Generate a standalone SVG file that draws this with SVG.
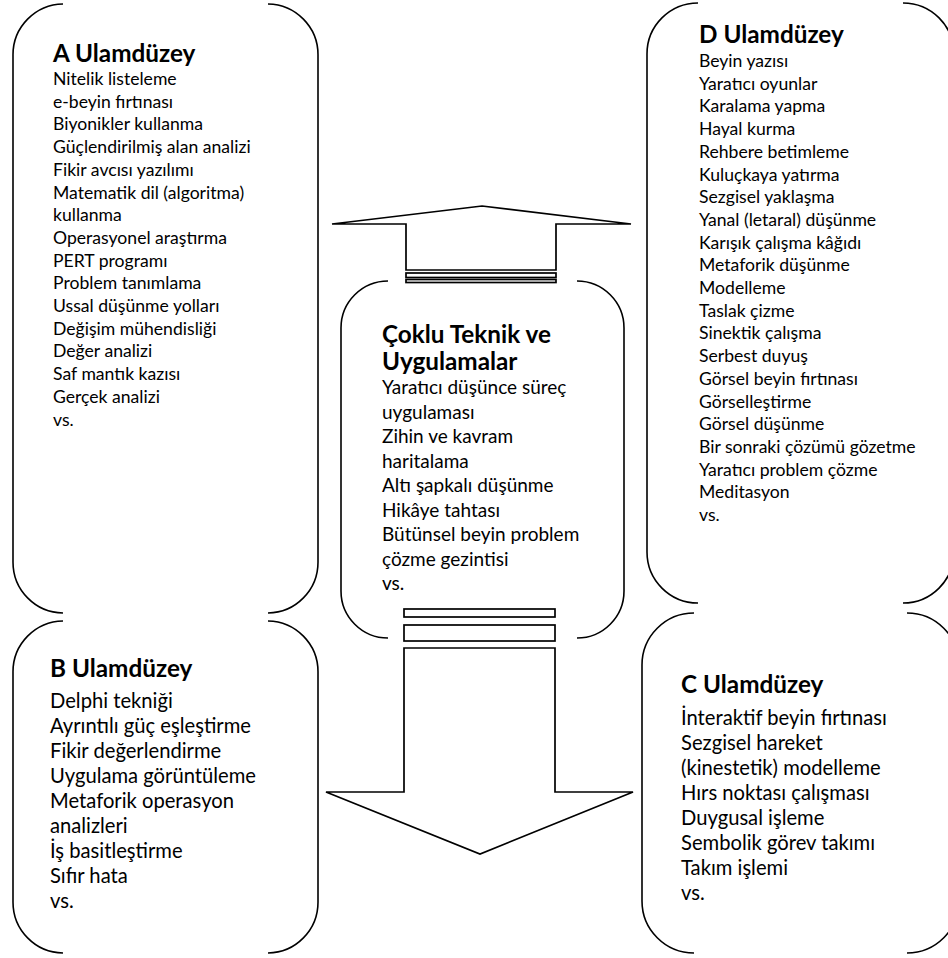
<svg xmlns="http://www.w3.org/2000/svg" width="948" height="958" viewBox="0 0 948 958">
<style>
.br{fill:none;stroke:#000;stroke-width:1.6}
.ar{fill:#fff;stroke:#000;stroke-width:1.7;stroke-linejoin:miter}
.h{font-family:Lato,"Noto Sans",sans-serif;font-weight:bold;font-size:24.3px;fill:#000}
.s{font-family:Lato,"Noto Sans",sans-serif;font-size:17.6px;fill:#000}
.m{font-family:Lato,"Noto Sans",sans-serif;font-size:19px;fill:#000}
.l{font-family:Lato,"Noto Sans",sans-serif;font-size:20.2px;fill:#000}
</style>
<rect width="948" height="958" fill="#fff"/>
<g id="nodeA">
<path class="br" d="M63,4 A50.8,50.8 0 0 0 13,54.8 L13,562.2 A50.8,50.8 0 0 0 63,613"/>
<path class="br" d="M268,4 A50.8,50.8 0 0 1 318,54.8 L318,562.2 A50.8,50.8 0 0 1 268,613"/>
<text class="h" x="53" y="62">A Ulamdüzey</text>
<text class="s" x="53" y="85">Nitelik listeleme</text>
<text class="s" x="53" y="107.7">e-beyin fırtınası</text>
<text class="s" x="53" y="130.4">Biyonikler kullanma</text>
<text class="s" x="53" y="153.1">Güçlendirilmiş alan analizi</text>
<text class="s" x="53" y="175.8">Fikir avcısı yazılımı</text>
<text class="s" x="53" y="198.5">Matematik dil (algoritma)</text>
<text class="s" x="53" y="221.2">kullanma</text>
<text class="s" x="53" y="243.9">Operasyonel araştırma</text>
<text class="s" x="53" y="266.6">PERT programı</text>
<text class="s" x="53" y="289.3">Problem tanımlama</text>
<text class="s" x="53" y="312">Ussal düşünme yolları</text>
<text class="s" x="53" y="334.7">Değişim mühendisliği</text>
<text class="s" x="53" y="357.4">Değer analizi</text>
<text class="s" x="53" y="380.1">Saf mantık kazısı</text>
<text class="s" x="53" y="402.8">Gerçek analizi</text>
<text class="s" x="53" y="425.5">vs.</text>
</g>
<g id="nodeD">
<path class="br" d="M698,3 A51,51 0 0 0 647,54 L647,552 A51,51 0 0 0 698,603"/>
<path class="br" d="M903,3 A51,51 0 0 1 954,54 L954,552 A51,51 0 0 1 903,603"/>
<text class="h" x="699" y="43">D Ulamdüzey</text>
<text class="s" x="699" y="67">Beyin yazısı</text>
<text class="s" x="699" y="89.7">Yaratıcı oyunlar</text>
<text class="s" x="699" y="112.4">Karalama yapma</text>
<text class="s" x="699" y="135.1">Hayal kurma</text>
<text class="s" x="699" y="157.8">Rehbere betimleme</text>
<text class="s" x="699" y="180.5">Kuluçkaya yatırma</text>
<text class="s" x="699" y="203.2">Sezgisel yaklaşma</text>
<text class="s" x="699" y="225.9">Yanal (letaral) düşünme</text>
<text class="s" x="699" y="248.6">Karışık çalışma kâğıdı</text>
<text class="s" x="699" y="271.3">Metaforik düşünme</text>
<text class="s" x="699" y="294">Modelleme</text>
<text class="s" x="699" y="316.7">Taslak çizme</text>
<text class="s" x="699" y="339.4">Sinektik çalışma</text>
<text class="s" x="699" y="362.1">Serbest duyuş</text>
<text class="s" x="699" y="384.8">Görsel beyin fırtınası</text>
<text class="s" x="699" y="407.5">Görselleştirme</text>
<text class="s" x="699" y="430.2">Görsel düşünme</text>
<text class="s" x="699" y="452.9">Bir sonraki çözümü gözetme</text>
<text class="s" x="699" y="475.6">Yaratıcı problem çözme</text>
<text class="s" x="699" y="498.3">Meditasyon</text>
<text class="s" x="699" y="521">vs.</text>
</g>
<g id="nodeCenter">
<path class="br" d="M388,281 A47,47 0 0 0 341,328 L341,591 A47,47 0 0 0 388,638"/>
<path class="br" d="M577,281 A47,47 0 0 1 624,328 L624,591 A47,47 0 0 1 577,638"/>
<text class="h" x="382" y="343">Çoklu Teknik ve</text>
<text class="h" x="382" y="370">Uygulamalar</text>
<text class="m" x="382" y="394">Yaratıcı düşünce süreç</text>
<text class="m" x="382" y="418.5">uygulaması</text>
<text class="m" x="382" y="443">Zihin ve kavram</text>
<text class="m" x="382" y="467.5">haritalama</text>
<text class="m" x="382" y="492">Altı şapkalı düşünme</text>
<text class="m" x="382" y="516.5">Hikâye tahtası</text>
<text class="m" x="382" y="541">Bütünsel beyin problem</text>
<text class="m" x="382" y="565.5">çözme gezintisi</text>
<text class="m" x="382" y="590">vs.</text>
</g>
<g id="nodeB">
<path class="br" d="M63,621 A50.8,50.8 0 0 0 13,671.8 L13,902.2 A50.8,50.8 0 0 0 63,953"/>
<path class="br" d="M268,621 A50.8,50.8 0 0 1 318,671.8 L318,902.2 A50.8,50.8 0 0 1 268,953"/>
<text class="h" x="50" y="677">B Ulamdüzey</text>
<text class="l" x="50" y="708">Delphi tekniği</text>
<text class="l" x="50" y="733">Ayrıntılı güç eşleştirme</text>
<text class="l" x="50" y="758">Fikir değerlendirme</text>
<text class="l" x="50" y="783">Uygulama görüntüleme</text>
<text class="l" x="50" y="808">Metaforik operasyon</text>
<text class="l" x="50" y="833">analizleri</text>
<text class="l" x="50" y="858">İş basitleştirme</text>
<text class="l" x="50" y="883">Sıfır hata</text>
<text class="l" x="50" y="908">vs.</text>
</g>
<g id="nodeC">
<path class="br" d="M694,613 A52,52 0 0 0 642,665 L642,901 A52,52 0 0 0 694,953"/>
<path class="br" d="M907,613 A52,52 0 0 1 959,665 L959,901 A52,52 0 0 1 907,953"/>
<text class="h" x="681" y="693">C Ulamdüzey</text>
<text class="l" x="681" y="725">İnteraktif beyin fırtınası</text>
<text class="l" x="681" y="750">Sezgisel hareket</text>
<text class="l" x="681" y="775">(kinestetik) modelleme</text>
<text class="l" x="681" y="800">Hırs noktası çalışması</text>
<text class="l" x="681" y="825">Duygusal işleme</text>
<text class="l" x="681" y="850">Sembolik görev takımı</text>
<text class="l" x="681" y="875">Takım işlemi</text>
<text class="l" x="681" y="900">vs.</text>
</g>
<g id="connectors">
<g id="arrowUp">
<polygon class="ar" points="482,206 631,224 556,224 556,270 406,270 406,224 332,224"/>
<rect class="ar" x="406" y="273" width="150" height="4.5" stroke-width="1.4"/>
<rect class="ar" x="406" y="279.5" width="150" height="3" stroke-width="1.4"/>
</g>
<g id="arrowDown">
<rect class="ar" x="404" y="609" width="151" height="8"/>
<rect class="ar" x="404" y="625" width="151" height="16"/>
<polygon class="ar" points="404,648 555,648 555,792 633,792 480,854 326,792 404,792"/>
</g>
</g>
</svg>
